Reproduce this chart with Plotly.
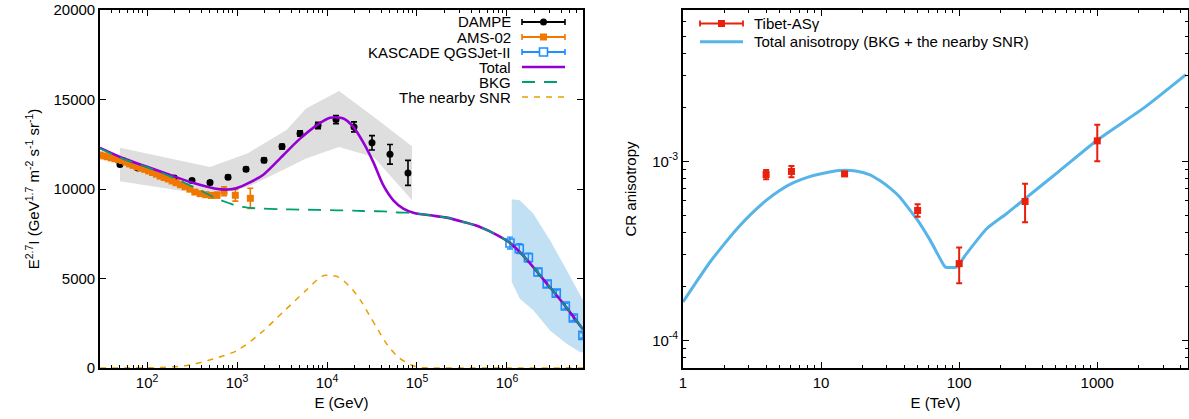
import plotly.graph_objects as go

# ---------------- Left panel data ----------------
dampe_E = [50, 79, 126, 200, 316, 501, 794, 1259, 1995, 3162, 5012, 7943, 12589, 19953, 31623, 50119, 79433]
dampe_I = [11370, 11180, 10900, 10620, 10470, 10360, 10660, 11100, 11610, 12370, 13100, 13550, 13880, 13470, 12580, 11940, 10900]
dampe_err = [100, 100, 100, 100, 100, 100, 100, 110, 120, 130, 150, 180, 230, 280, 400, 550, 700]

dampe_band_E = [50, 500, 1320, 3550, 5850, 13600, 33000, 88000]
dampe_band_hi = [12300, 11230, 12000, 13290, 14500, 15480, 14030, 12390]
dampe_band_lo = [10430, 9650, 10110, 11160, 11700, 12350, 11790, 9370]

ams_E = [30, 33, 36, 40, 44, 48, 53, 58, 64, 70, 77, 85, 94, 104, 115, 127, 140, 155, 172, 190,
         210, 235, 265, 300, 340, 390, 450, 520, 600, 718, 957, 1406]
ams_I = [11900, 11850, 11800, 11740, 11690, 11640, 11590, 11500, 11400, 11320, 11240, 11170, 11100,
         11010, 10920, 10830, 10720, 10640, 10560, 10450, 10350, 10240, 10130, 9990, 9830, 9740,
         9680, 9640, 9660, 9870, 9650, 9480]
ams_err = [40, 40, 40, 40, 40, 40, 40, 40, 40, 40, 40, 40, 50, 50, 50, 50, 60, 60, 60, 70,
           70, 80, 80, 90, 100, 110, 120, 140, 160, 250, 330, 560]

kas_E = [1.08e6, 1.37e6, 1.73e6, 2.21e6, 2.80e6, 3.53e6, 4.45e6, 5.46e6, 6.98e6]
kas_I = [6980, 6670, 6165, 5360, 4690, 4185, 3460, 2790, 1820]
kas_err = [330, 280, 250, 200, 180, 170, 160, 150, 140]

kas_band_E = [1.13e6, 1.39e6, 1.96e6, 3.01e6, 4.60e6, 6.47e6, 7.0e6]
kas_band_hi = [9430, 9370, 8630, 7130, 5480, 4150, 3780]
kas_band_lo = [4800, 3870, 3220, 2100, 1350, 890, 870]

curve_E = [30, 56, 100, 178, 316, 562, 790, 1000, 1300, 1960, 3000, 4980, 7890, 10800,
           15200, 19600, 25300, 32700, 42300, 54600, 70400, 91000, 139000, 214000, 327000,
           501000, 769000, 1.08e6, 1.66e6, 2.80e6, 4.45e6, 7.0e6]
total_I = [12300, 11690, 11240, 10800, 10360, 10030, 9968, 10060, 10300, 10800, 11700, 12800,
           13600, 13980, 13940, 13471, 12600, 11500, 10200, 9370, 8905, 8680, 8530, 8400, 8160,
           7880, 7440, 6990, 6060, 4690, 3460, 2150]
bkg_I = [12260, 11660, 11220, 10720, 10150, 9520, 9230, 9050, 8960, 8900, 8870, 8850, 8830,
         8820, 8800, 8790, 8770, 8760, 8750, 8700, 8680, 8660, 8530, 8400, 8160,
         7880, 7440, 6990, 6060, 4690, 3460, 2150]

snr_E = [30, 60, 105, 275, 550, 1000, 1800, 3240, 5850, 8730, 9930, 13400, 18800, 24300,
         30100, 37200, 46800, 62000, 91000, 128000, 300000, 1.0e6, 7.0e6]
snr_I = [0, 2, 10, 140, 515, 979, 1913, 3122, 4335, 5119, 5175, 5080, 4430, 3681,
         2881, 2098, 1298, 604, 123, 11, 0, 0, 0]

# ---------------- Right panel data ----------------
tibet_E = [4, 6.1, 14.8, 50, 100, 300, 1000]
tibet_A = [8.43e-4, 8.77e-4, 8.50e-4, 5.31e-4, 2.68e-4, 5.96e-4, 1.30e-3]
tibet_err_hi = [0.50e-4, 0.63e-4, 0.20e-4, 0.45e-4, 0.62e-4, 1.52e-4, 0.30e-3]
tibet_err_lo = [0.50e-4, 0.62e-4, 0.20e-4, 0.41e-4, 0.60e-4, 1.39e-4, 0.30e-3]

aniso_E = [1, 1.26, 1.58, 2.0, 2.51, 3.16, 3.98, 5.01, 6.31, 7.94, 10, 13.6, 17.8, 22.4, 26.6,
           31.6, 37.1, 43.7, 50.1, 61.7, 75.9, 79.4, 95.5, 113, 158, 220, 299, 536, 986, 2203, 4385]
aniso_A = [1.637e-4, 2.138e-4, 2.754e-4, 3.467e-4, 4.266e-4, 5.129e-4, 6.026e-4, 6.871e-4,
           7.586e-4, 8.128e-4, 8.511e-4, 8.872e-4, 8.810e-4, 8.414e-4, 7.798e-4, 7.079e-4,
           6.310e-4, 5.370e-4, 4.677e-4, 3.614e-4, 2.692e-4, 2.564e-4, 2.564e-4, 3.048e-4,
           4.198e-4, 5.093e-4, 6.166e-4, 8.872e-4, 1.303e-3, 2.0e-3, 3.048e-3]

# ---------------- colours ----------------
C_DAMPE = "black"
C_AMS = "#f07800"
C_KAS = "#1e8fff"
C_TOT = "#9400d3"
C_BKG = "#009e73"
C_SNR = "#e6a100"
C_TIB = "#e8200c"
C_ANI = "#56b4e9"
FONT = "Liberation Sans"
FS = 15

fig = go.Figure()

# bands
fig.add_trace(go.Scatter(x=dampe_band_E + dampe_band_E[::-1], y=dampe_band_hi + dampe_band_lo[::-1],
                         fill="toself", fillcolor="#dedede", line=dict(width=0), mode="lines",
                         hoverinfo="skip", showlegend=False, xaxis="x", yaxis="y"))
fig.add_trace(go.Scatter(x=kas_band_E + kas_band_E[::-1], y=kas_band_hi + kas_band_lo[::-1],
                         fill="toself", fillcolor="#c2e0f4", line=dict(width=0), mode="lines",
                         hoverinfo="skip", showlegend=False, xaxis="x", yaxis="y"))
# data
fig.add_trace(go.Scatter(x=dampe_E, y=dampe_I, mode="markers", name="DAMPE",
                         marker=dict(symbol="circle", size=7, color=C_DAMPE),
                         error_y=dict(type="data", array=dampe_err, color=C_DAMPE, thickness=1.6, width=3),
                         showlegend=False, xaxis="x", yaxis="y"))
fig.add_trace(go.Scatter(x=ams_E, y=ams_I, mode="markers", name="AMS-02",
                         marker=dict(symbol="square", size=7, color=C_AMS),
                         error_y=dict(type="data", array=ams_err, color=C_AMS, thickness=1.6, width=3),
                         showlegend=False, xaxis="x", yaxis="y"))
fig.add_trace(go.Scatter(x=kas_E, y=kas_I, mode="markers", name="KASCADE QGSJet-II",
                         marker=dict(symbol="square-open", size=8, color=C_KAS, line=dict(width=1.6)),
                         error_y=dict(type="data", array=kas_err, color=C_KAS, thickness=1.4, width=3),
                         showlegend=False, xaxis="x", yaxis="y"))
# model curves
fig.add_trace(go.Scatter(x=curve_E, y=total_I, mode="lines", name="Total",
                         line=dict(color=C_TOT, width=2.6, shape="spline", smoothing=0.8),
                         showlegend=False, xaxis="x", yaxis="y"))
fig.add_trace(go.Scatter(x=curve_E, y=bkg_I, mode="lines", name="BKG",
                         line=dict(color=C_BKG, width=1.8, dash="13px,9px", shape="spline", smoothing=0.8),
                         showlegend=False, xaxis="x", yaxis="y"))
fig.add_trace(go.Scatter(x=snr_E, y=snr_I, mode="lines", name="The nearby SNR",
                         line=dict(color=C_SNR, width=1.5, dash="6px,6px", shape="spline", smoothing=0.8),
                         showlegend=False, xaxis="x", yaxis="y"))

# right panel
fig.add_trace(go.Scatter(x=aniso_E, y=aniso_A, mode="lines", name="Total anisotropy (BKG + the nearby SNR)",
                         line=dict(color=C_ANI, width=3, shape="spline", smoothing=0.5),
                         showlegend=False, xaxis="x2", yaxis="y2"))
fig.add_trace(go.Scatter(x=tibet_E, y=tibet_A, mode="markers", name="Tibet-ASγ",
                         marker=dict(symbol="square", size=7, color=C_TIB),
                         error_y=dict(type="data", symmetric=False, array=tibet_err_hi, arrayminus=tibet_err_lo,
                                      color=C_TIB, thickness=2, width=3),
                         showlegend=False, xaxis="x2", yaxis="y2"))

W, H = 1189, 419
L1, R1 = 100, 583
L2, R2 = 683, 1188
TOP, BOT = 10, 368
IW = R2 - L1


def minor_log(lo, hi):
    vals = []
    for k in range(lo, hi):
        for m in range(2, 10):
            vals.append(m * 10 ** k)
    return vals


axis_common = dict(showline=True, linecolor="black", linewidth=1.6, mirror="allticks",
                   ticks="inside", ticklen=6, tickwidth=1, tickcolor="black", showgrid=False,
                   zeroline=False, automargin=False,
                   tickfont=dict(family=FONT, size=FS, color="black"),
                   title_font=dict(family=FONT, size=FS, color="black"))

fig.update_layout(
    width=W, height=H, margin=dict(l=L1, r=W - R2, t=TOP, b=H - BOT, autoexpand=False),
    paper_bgcolor="white", plot_bgcolor="white", showlegend=False,
    font=dict(family=FONT, size=FS, color="black"),
    xaxis=dict(type="log", domain=[0, (R1 - L1) / IW], range=[1.4771, 6.845],
               tickvals=[1e2, 1e3, 1e4, 1e5, 1e6],
               ticktext=["10<sup>2</sup>", "10<sup>3</sup>", "10<sup>4</sup>", "10<sup>5</sup>", "10<sup>6</sup>"],
               minor=dict(ticks="inside", ticklen=3, tickcolor="black", tickvals=minor_log(1, 7)),
               title=dict(text="E (GeV)", standoff=8), anchor="y", **axis_common),
    yaxis=dict(domain=[0, 1], range=[0, 20000], tickvals=[0, 5000, 10000, 15000, 20000],
               ticktext=["0", "5000", "10000", "15000", "20000"],
               title=dict(text="E<sup>2.7</sup>I (GeV<sup>1.7</sup> m<sup>-2</sup> s<sup>-1</sup> sr<sup>-1</sup>)",
                          standoff=10),
               anchor="x", **axis_common),
    xaxis2=dict(type="log", domain=[(L2 - L1) / IW, 1], range=[0, 3.657],
                tickvals=[1, 10, 100, 1000], ticktext=["1", "10", "100", "1000"],
                minor=dict(ticks="inside", ticklen=3, tickcolor="black", tickvals=minor_log(0, 4)),
                title=dict(text="E (TeV)", standoff=8), anchor="y2", **axis_common),
    yaxis2=dict(type="log", domain=[0, 1], range=[-4.155, -2.155],
                tickvals=[1e-4, 1e-3], ticktext=["10<sup>-4</sup>", "10<sup>-3</sup>"],
                minor=dict(ticks="inside", ticklen=3, tickcolor="black", tickvals=minor_log(-5, -2)),
                title=dict(text="CR anisotropy", standoff=12), anchor="x2", **axis_common),
)

# ---------------- legends (gnuplot style) ----------------
shapes = []
annots = []


def dxl(px):
    return (px - L1) / (R1 - L1)


def dyl(py):
    return (BOT - py) / (BOT - TOP)


def dxr(px):
    return (px - L2) / (R2 - L2)


left_items = [("DAMPE", "err", C_DAMPE, "circle"),
              ("AMS-02", "err", C_AMS, "square"),
              ("KASCADE QGSJet-II", "err", C_KAS, "square-open"),
              ("Total", "line", C_TOT, None),
              ("BKG", "dash", C_BKG, None),
              ("The nearby SNR", "sdash", C_SNR, None)]
s0, s1 = 522, 565
for i, (label, kind, col, sym) in enumerate(left_items):
    py = 22 + 15 * i
    annots.append(dict(text=label, xref="x domain", yref="y domain", x=dxl(513), y=dyl(py),
                       xanchor="right", yanchor="middle", showarrow=False,
                       font=dict(family=FONT, size=FS, color="black")))
    if kind == "err":
        shapes.append(dict(type="line", xref="x domain", yref="y domain", x0=dxl(s0), x1=dxl(s1),
                           y0=dyl(py), y1=dyl(py), line=dict(color=col, width=1.8)))
        for ex in (s0, s1):
            shapes.append(dict(type="line", xref="x domain", yref="y domain", x0=dxl(ex), x1=dxl(ex),
                               y0=dyl(py - 3), y1=dyl(py + 3), line=dict(color=col, width=1.6)))
        cx = (s0 + s1) / 2
        if sym == "circle":
            shapes.append(dict(type="circle", xref="x domain", yref="y domain", x0=dxl(cx - 3.5), x1=dxl(cx + 3.5),
                               y0=dyl(py - 3.5), y1=dyl(py + 3.5), fillcolor=col, line=dict(color=col, width=0)))
        elif sym == "square":
            shapes.append(dict(type="rect", xref="x domain", yref="y domain", x0=dxl(cx - 3.5), x1=dxl(cx + 3.5),
                               y0=dyl(py - 3.5), y1=dyl(py + 3.5), fillcolor=col, line=dict(color=col, width=0)))
        else:
            shapes.append(dict(type="rect", xref="x domain", yref="y domain", x0=dxl(cx - 4), x1=dxl(cx + 4),
                               y0=dyl(py - 4), y1=dyl(py + 4), fillcolor="white", line=dict(color=col, width=1.6)))
    elif kind == "line":
        shapes.append(dict(type="line", xref="x domain", yref="y domain", x0=dxl(s0), x1=dxl(s1),
                           y0=dyl(py), y1=dyl(py), line=dict(color=col, width=2.6)))
    elif kind == "dash":
        shapes.append(dict(type="line", xref="x domain", yref="y domain", x0=dxl(s0), x1=dxl(s1),
                           y0=dyl(py), y1=dyl(py), line=dict(color=col, width=1.8, dash="13px,9px")))
    else:
        shapes.append(dict(type="line", xref="x domain", yref="y domain", x0=dxl(s0), x1=dxl(s1),
                           y0=dyl(py), y1=dyl(py), line=dict(color=col, width=1.5, dash="6px,6px")))

# right legend
r0, r1 = 700, 743
for i, (label, kind, col) in enumerate([("Tibet-ASγ", "err", C_TIB),
                                         ("Total anisotropy (BKG + the nearby SNR)", "line", C_ANI)]):
    py = 23.5 + 18.3 * i
    annots.append(dict(text=label, xref="x2 domain", yref="y2 domain", x=dxr(752), y=dyl(py),
                       xanchor="left", yanchor="middle", showarrow=False,
                       font=dict(family=FONT, size=FS, color="black")))
    if kind == "err":
        shapes.append(dict(type="line", xref="x2 domain", yref="y2 domain", x0=dxr(r0), x1=dxr(r1),
                           y0=dyl(py), y1=dyl(py), line=dict(color=col, width=2)))
        for ex in (r0, r1):
            shapes.append(dict(type="line", xref="x2 domain", yref="y2 domain", x0=dxr(ex), x1=dxr(ex),
                               y0=dyl(py - 3), y1=dyl(py + 3), line=dict(color=col, width=1.8)))
        cx = (r0 + r1) / 2
        shapes.append(dict(type="rect", xref="x2 domain", yref="y2 domain", x0=dxr(cx - 3.5), x1=dxr(cx + 3.5),
                           y0=dyl(py - 3.5), y1=dyl(py + 3.5), fillcolor=col, line=dict(color=col, width=0)))
    else:
        shapes.append(dict(type="line", xref="x2 domain", yref="y2 domain", x0=dxr(r0), x1=dxr(r1),
                           y0=dyl(py), y1=dyl(py), line=dict(color=col, width=3)))

fig.update_layout(shapes=shapes, annotations=annots)
fig.write_html("out.html", config={"displayModeBar": False},
               post_script="document.body.style.margin='0px';document.body.style.overflow='hidden';")
